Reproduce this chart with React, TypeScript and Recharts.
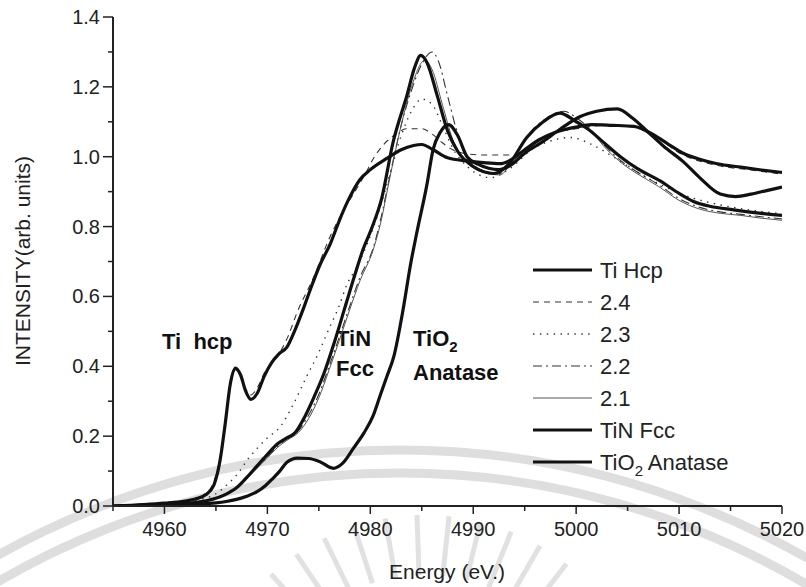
import React from 'react';
import { LineChart, Line, XAxis, YAxis, Customized } from 'recharts';

const FONT = '"Liberation Sans", Arial, sans-serif';

const energyTicks = [4955, 4960, 4965, 4970, 4975, 4980, 4985, 4990, 4995, 5000, 5005, 5010, 5015, 5020];
const intensityTicks = [0, 0.1, 0.2, 0.3, 0.4, 0.5, 0.6, 0.7, 0.8, 0.9, 1.0, 1.1, 1.2, 1.3, 1.4];

// [energy eV, intensity]
const tiHcp: [number, number][] = [
  [4955, 0], [4958, 0.004], [4960, 0.008], [4962, 0.014], [4963, 0.02], [4964, 0.032], [4964.8, 0.06],
  [4965.4, 0.13], [4965.9, 0.235], [4966.4, 0.35], [4966.9, 0.395], [4967.4, 0.375], [4967.9, 0.328],
  [4968.4, 0.305], [4969, 0.322], [4969.7, 0.372], [4970.4, 0.41], [4971.1, 0.435], [4971.9, 0.455],
  [4972.7, 0.505], [4973.5, 0.565], [4974.3, 0.63], [4975.1, 0.69], [4976.1, 0.75], [4977, 0.818],
  [4977.8, 0.872], [4979, 0.935], [4980, 0.963], [4981.6, 0.995], [4983, 1.02], [4984.2, 1.032],
  [4985, 1.035], [4986.1, 1.02], [4987.5, 0.997], [4989.4, 0.988], [4991, 0.983], [4992.6, 0.98],
  [4993.6, 0.99], [4995, 1.02], [4996.5, 1.05], [4998, 1.07], [5000, 1.085], [5001.5, 1.092],
  [5003.5, 1.09], [5005.6, 1.087], [5007.5, 1.063], [5009, 1.035], [5010.4, 1.01], [5012, 0.993],
  [5013.7, 0.98], [5016, 0.97], [5018, 0.962], [5020, 0.955],
];

const s24: [number, number][] = [
  [4955, 0], [4960, 0.01], [4962, 0.015], [4963, 0.022], [4964, 0.036], [4964.8, 0.07], [4965.4, 0.14],
  [4965.9, 0.245], [4966.4, 0.345], [4966.9, 0.39], [4967.4, 0.37], [4967.9, 0.335], [4968.4, 0.318],
  [4969, 0.338], [4969.8, 0.386], [4970.9, 0.425], [4972, 0.485], [4972.9, 0.555], [4974.5, 0.655],
  [4976, 0.765], [4977.5, 0.852], [4978.5, 0.9], [4979.5, 0.95], [4980.3, 0.995], [4981.3, 1.035],
  [4982.5, 1.065], [4983.5, 1.08], [4985, 1.08], [4986, 1.065], [4987, 1.04], [4988, 1.02], [4989.5, 1.008],
  [4991, 1.005], [4994.3, 1.005], [4995.9, 1.04], [4997.5, 1.065], [5000, 1.08], [5003, 1.09],
  [5005.6, 1.085], [5007.5, 1.06], [5010.4, 1.005], [5013.7, 0.975], [5017, 0.962], [5020, 0.95],
];

const s23: [number, number][] = [
  [4955, 0], [4960, 0.006], [4963, 0.016], [4965, 0.035], [4966.4, 0.07], [4967.2, 0.095], [4968, 0.13],
  [4969, 0.165], [4970, 0.195], [4971.2, 0.225], [4972.5, 0.29], [4973.8, 0.37], [4975, 0.44],
  [4975.8, 0.495], [4977, 0.575], [4977.7, 0.632], [4978.6, 0.68], [4979.7, 0.75], [4981, 0.86], [4982, 0.96],
  [4983, 1.06], [4984, 1.13], [4985, 1.165], [4986, 1.15], [4987, 1.09], [4988, 1.025], [4989.5, 0.97],
  [4991.7, 0.94], [4993.5, 0.965], [4995.9, 1.025], [4997.5, 1.045], [4999.5, 1.055], [5001.5, 1.035],
  [5003.6, 1.0], [5006, 0.955], [5008.9, 0.91], [5011, 0.885], [5014, 0.862], [5017, 0.847], [5020, 0.837],
];

const s22: [number, number][] = [
  [4955, 0], [4960, 0.004], [4963, 0.01], [4965, 0.022], [4966, 0.034], [4967, 0.052], [4968, 0.08],
  [4969, 0.11], [4970, 0.14], [4971, 0.17], [4972, 0.195], [4973, 0.215], [4974, 0.26], [4975, 0.32],
  [4976, 0.4], [4977, 0.485], [4978, 0.572], [4979, 0.655], [4980.3, 0.74], [4981, 0.82], [4982, 0.96],
  [4983, 1.09], [4984, 1.19], [4985, 1.265], [4986, 1.3], [4986.6, 1.275], [4987.5, 1.175], [4988.5, 1.065],
  [4989.5, 0.995], [4991, 0.96], [4992.6, 0.952], [4994, 0.998], [4995.5, 1.068], [4997, 1.108],
  [4998.8, 1.13], [5000, 1.112], [5001.5, 1.075], [5003, 1.025], [5004.5, 0.985], [5006, 0.955],
  [5008, 0.92], [5010, 0.88], [5012, 0.855], [5014, 0.842], [5016, 0.835], [5018, 0.828], [5020, 0.822],
];

const s21: [number, number][] = [
  [4955, 0], [4960, 0.004], [4963, 0.01], [4965, 0.022], [4966, 0.034], [4967, 0.052], [4968, 0.078],
  [4969, 0.108], [4970, 0.138], [4971, 0.168], [4972, 0.19], [4973, 0.21], [4974, 0.25], [4975, 0.31],
  [4976, 0.39], [4977, 0.475], [4978, 0.562], [4979, 0.645], [4980.3, 0.735], [4981, 0.81], [4981.9, 0.94],
  [4983, 1.09], [4984, 1.2], [4985.3, 1.276], [4986, 1.25], [4987, 1.15], [4988, 1.05], [4989.5, 0.98],
  [4991, 0.955], [4992.6, 0.948], [4994, 1.0], [4995.5, 1.065], [4997, 1.105], [4998.6, 1.125],
  [5000, 1.105], [5001.5, 1.07], [5003, 1.02], [5004.5, 0.98], [5006, 0.95], [5008, 0.915], [5010, 0.875],
  [5012, 0.85], [5014, 0.838], [5016, 0.832], [5018, 0.824], [5020, 0.818],
];

const tinFcc: [number, number][] = [
  [4955, 0], [4960, 0.004], [4963, 0.01], [4965, 0.022], [4966, 0.034], [4967, 0.052], [4968, 0.082],
  [4969, 0.115], [4970, 0.148], [4971, 0.178], [4971.9, 0.195], [4972.7, 0.21], [4973.5, 0.248],
  [4974.5, 0.31], [4975.5, 0.38], [4976.5, 0.468], [4977.5, 0.565], [4978.5, 0.662], [4979.3, 0.735],
  [4980.2, 0.8], [4981.1, 0.88], [4982.2, 1.04], [4983.6, 1.18], [4984.3, 1.255], [4984.9, 1.29],
  [4985.5, 1.27], [4986.5, 1.175], [4987.5, 1.075], [4988.5, 1.015], [4990, 0.972], [4992, 0.952],
  [4993.5, 0.98], [4995.2, 1.055], [4996.8, 1.1], [4998.4, 1.125], [5000, 1.1], [5001.1, 1.08],
  [5002.7, 1.04], [5004.3, 1.0], [5006, 0.965], [5008.2, 0.93], [5010, 0.895], [5011.4, 0.872],
  [5013, 0.858], [5015.3, 0.848], [5018, 0.838], [5020, 0.832],
];

const tio2Anatase: [number, number][] = [
  [4955, 0], [4960, 0.001], [4963, 0.005], [4965, 0.009], [4966, 0.013], [4967, 0.019], [4968, 0.028],
  [4969, 0.041], [4969.8, 0.058], [4970.5, 0.078], [4971.2, 0.1], [4971.9, 0.125], [4972.9, 0.137],
  [4974, 0.136], [4975.1, 0.127], [4976.4, 0.108], [4977.3, 0.122], [4978.4, 0.167], [4979.4, 0.21],
  [4980.3, 0.26], [4981, 0.32], [4981.6, 0.37], [4982.3, 0.43], [4983.2, 0.565], [4983.9, 0.69],
  [4984.5, 0.78], [4985.5, 0.92], [4986.1, 1.02], [4986.8, 1.07], [4987.6, 1.092], [4988.5, 1.06],
  [4989.4, 1.0], [4990.5, 0.978], [4992.5, 0.963], [4993.6, 0.975], [4995, 1.01], [4996.8, 1.044],
  [4998.5, 1.08], [5000.4, 1.115], [5002, 1.13], [5004, 1.137], [5005.5, 1.11], [5006.9, 1.073],
  [5008.5, 1.03], [5010.4, 0.986], [5012, 0.94], [5014, 0.893], [5015.5, 0.886], [5017, 0.893],
  [5018.5, 0.903], [5020, 0.913],
];

const toPoints = (pairs: [number, number][]) => pairs.map(([e, v]) => ({ e, v }));

const THICK = { color: '#111', width: 3.2 };
const series = [
  { name: 'Ti Hcp', data: tiHcp, ...THICK, dash: undefined as string | undefined },
  { name: '2.4', data: s24, color: '#333', width: 1.1, dash: '6 5' },
  { name: '2.3', data: s23, color: '#333', width: 1.4, dash: '1.4 5.5' },
  { name: '2.2', data: s22, color: '#333', width: 1.1, dash: '9 4 2 4' },
  { name: '2.1', data: s21, color: '#555', width: 1, dash: undefined },
  { name: 'TiN Fcc', data: tinFcc, ...THICK, dash: undefined },
  { name: 'TiO2 Anatase', data: tio2Anatase, ...THICK, dash: undefined },
];
// thin curves first so the reference spectra sit on top
const drawOrder = [1, 2, 3, 4, 0, 5, 6];

function XTick(props: any) {
  const { x, y, payload } = props;
  const major = payload.value % 10 === 0;
  return (
    <g>
      <line x1={x} x2={x} y1={y} y2={y + (major ? 8 : 5)} stroke="#222" strokeWidth={1.5} />
      {major && (
        <text x={x} y={y + 30} textAnchor="middle" fontSize={20} fill="#222" fontFamily={FONT}>
          {payload.value}
        </text>
      )}
    </g>
  );
}

function YTick(props: any) {
  const { x, y, payload } = props;
  const tenth = Math.round(payload.value * 10);
  const major = tenth % 2 === 0;
  return (
    <g>
      <line x1={x - (major ? 10 : 5)} x2={x} y1={y} y2={y} stroke="#222" strokeWidth={1.5} />
      {major && (
        <text x={x - 13} y={y + 7} textAnchor="end" fontSize={20} fill="#222" fontFamily={FONT}>
          {(tenth / 10).toFixed(1)}
        </text>
      )}
    </g>
  );
}

function Watermark() {
  const cx = 400, cy = 1270;
  const rays = [-42, -34, -26, -18, -10, -2, 6, 14, 22, 30, 38];
  return (
    <g opacity={0.75}>
      <circle cx={cx} cy={cy} r={820} fill="none" stroke="#d4d4d4" strokeWidth={9} />
      <circle cx={cx} cy={cy} r={797} fill="none" stroke="#d4d4d4" strokeWidth={9} />
      {rays.map((a) => {
        const r = (a * Math.PI) / 180;
        const ox = 425, oy = 745;
        return (
          <line key={a} x1={ox + 170 * Math.sin(r)} y1={oy - 170 * Math.cos(r)}
            x2={ox + 230 * Math.sin(r)} y2={oy - 230 * Math.cos(r)} stroke="#d8d8d8" strokeWidth={5} />
        );
      })}
    </g>
  );
}

function Texts() {
  const rowY = [278, 310, 342, 374, 406, 438, 470];
  return (
    <g fontFamily={FONT} fill="#111">
      {series.map((s, i) => (
        <g key={s.name}>
          <line x1={533} x2={592} y1={rowY[i] - 8} y2={rowY[i] - 8} stroke={s.color}
            strokeWidth={s.width} strokeDasharray={s.dash} />
          <text x={600} y={rowY[i]} fontSize={22} fill="#222">
            {s.name === 'TiO2 Anatase' ? (
              <>TiO<tspan fontSize={15} dy={6}>2</tspan><tspan dy={-6}> Anatase</tspan></>
            ) : s.name}
          </text>
        </g>
      ))}
      <text x={162} y={349} fontSize={22} fontWeight="bold">Ti{'\u00a0\u00a0'}hcp</text>
      <text x={336} y={346} fontSize={22} fontWeight="bold">TiN</text>
      <text x={336} y={376} fontSize={22} fontWeight="bold">Fcc</text>
      <text x={413} y={346} fontSize={22} fontWeight="bold">
        TiO<tspan fontSize={15} dy={6}>2</tspan>
      </text>
      <text x={413} y={380} fontSize={22} fontWeight="bold">Anatase</text>
      <text x={447} y={579} fontSize={21} textAnchor="middle" fill="#222">Energy (eV.)</text>
      <text x={30} y={261} fontSize={21} textAnchor="middle" fill="#222" transform="rotate(-90 30 261)">
        INTENSITY(arb. units)
      </text>
    </g>
  );
}

export default function App() {
  return (
    <div style={{ position: 'absolute', left: 0, top: 0, background: '#fff' }}>
      <LineChart width={806} height={587} margin={{ top: 17, right: 24, bottom: 0, left: 0 }}>
        <Customized component={Watermark} />
        <XAxis dataKey="e" type="number" domain={[4955, 5020]} ticks={energyTicks} interval={0}
          height={81} tickSize={0} tickMargin={0} tickLine={false} tick={XTick} allowDataOverflow
          axisLine={{ stroke: '#222', strokeWidth: 2 }} />
        <XAxis xAxisId="top" orientation="top" type="number" domain={[4955, 5020]} height={0}
          tick={false} tickLine={false} axisLine={{ stroke: '#333', strokeWidth: 2 }} />
        <YAxis type="number" domain={[0, 1.4]} ticks={intensityTicks} interval={0} width={113}
          tickSize={0} tickMargin={0} tickLine={false} tick={YTick} allowDataOverflow
          axisLine={{ stroke: '#222', strokeWidth: 2 }} />
        <YAxis yAxisId="right" orientation="right" type="number" domain={[0, 1.4]} width={0}
          tick={false} tickLine={false} axisLine={{ stroke: '#333', strokeWidth: 2 }} />
        {drawOrder.map((i) => {
          const s = series[i];
          return (
            <Line key={s.name} data={toPoints(s.data)} dataKey="v" type="monotone" stroke={s.color}
              strokeWidth={s.width} strokeDasharray={s.dash} dot={false} isAnimationActive={false} />
          );
        })}
        <Customized component={Texts} />
      </LineChart>
    </div>
  );
}
